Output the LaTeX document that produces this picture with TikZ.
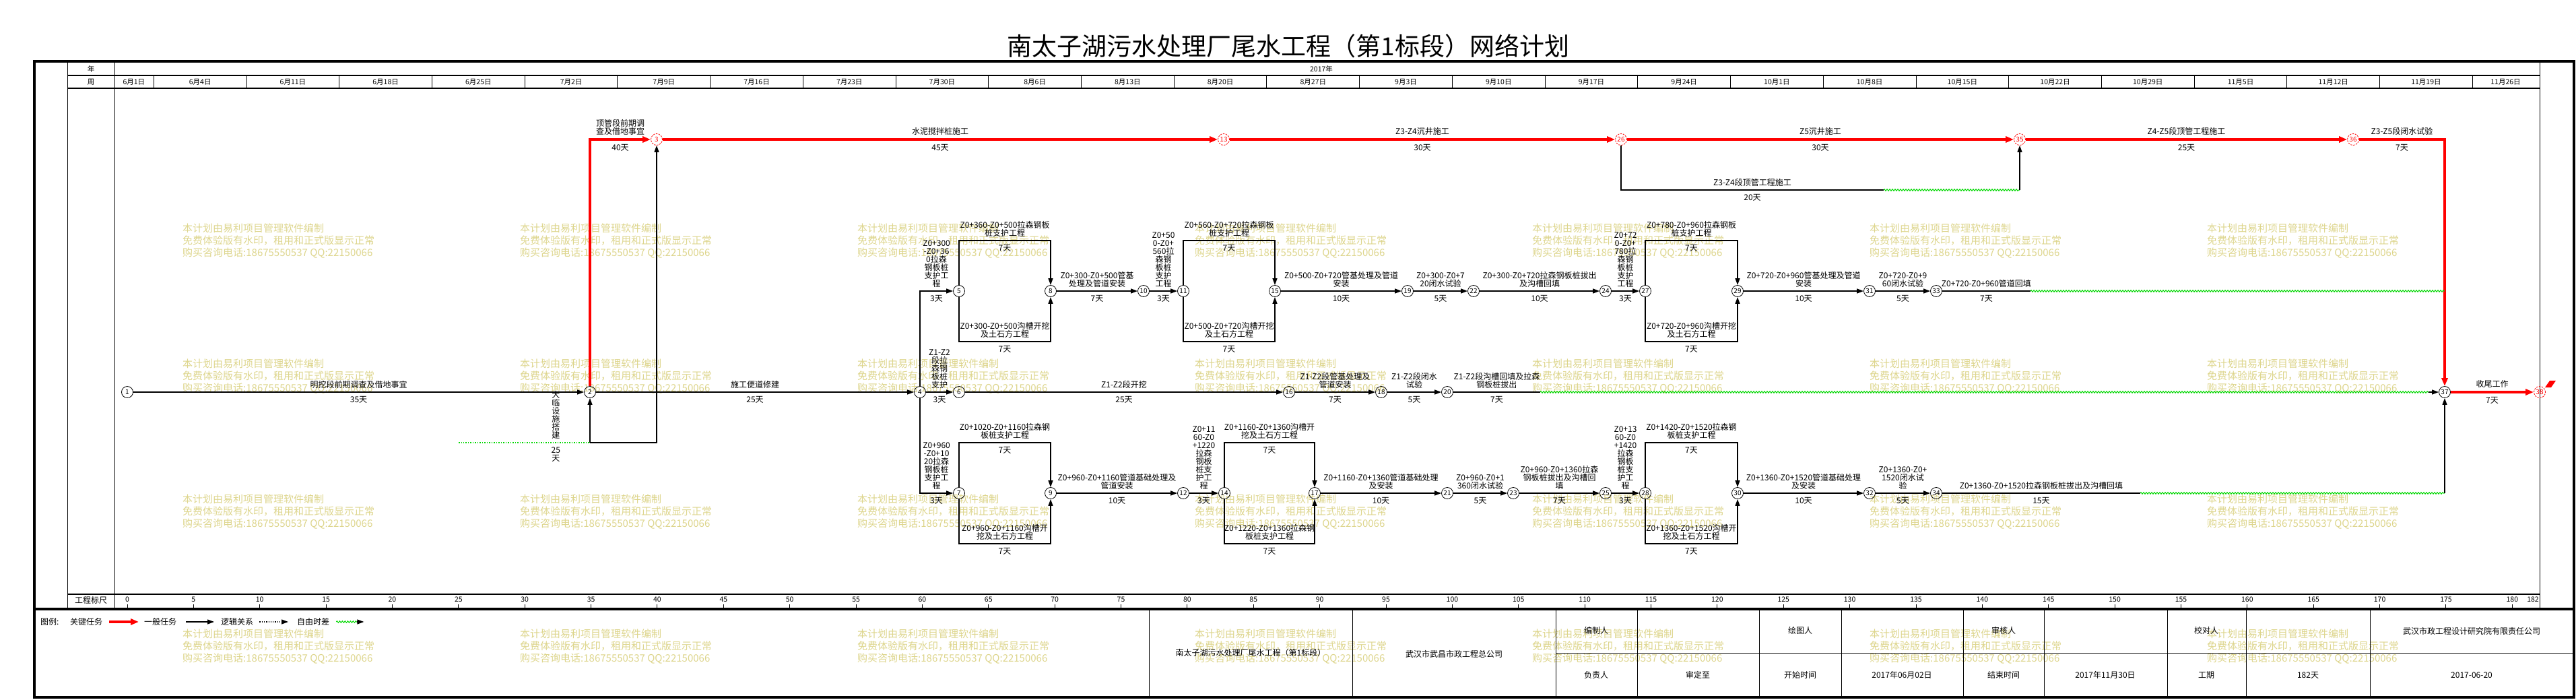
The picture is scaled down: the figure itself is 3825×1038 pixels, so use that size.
\documentclass[tikz,border=0pt]{standalone}
\usepackage{fontspec}
\setmainfont{Noto Sans CJK SC}
\usetikzlibrary{arrows.meta,decorations.pathmorphing}

\definecolor{critred}{RGB}{255,0,0}
\definecolor{floatgreen}{RGB}{0,215,0}
\definecolor{wmark}{RGB}{221,213,140}

\newcommand{\fsz}[1]{\fontsize{#1bp}{#1bp}\selectfont}
\newcommand{\dayx}[1]{189+19.674*(#1)}

\begin{document}
\begin{tikzpicture}[x=1bp, y=-1bp,
    ev/.style={circle, draw, line width=0.8bp, minimum size=17bp, inner sep=0pt, font=\fsz{10}},
    evcrit/.style={ev, draw=critred, text=critred, dash pattern=on 2.5bp off 1.5bp},
    act/.style={line width=1.3bp},
    arr/.style={-{Triangle[length=10bp,width=7bp]}},
    critact/.style={draw=critred, line width=3.5bp, -{Triangle[length=12bp,width=9bp]}},
    flt/.style={draw=floatgreen, line width=1bp, decorate,
                decoration={zigzag, amplitude=1.3bp, segment length=4bp}},
    lbl/.style={above=5bp, font=\fsz{12}, align=center, inner sep=0pt},
    dur/.style={below=6bp, font=\fsz{12}, align=center, inner sep=0pt},
    txt/.style={font=\fsz{10.5}, inner sep=0pt},
    tb/.style={font=\fsz{12}, inner sep=0pt},
    wm/.style={anchor=north west, align=left, text=wmark, inner sep=0pt,
               font=\fontsize{15bp}{18bp}\selectfont}]

  \useasboundingbox (0,0) rectangle (3825,1038);

  % watermark blocks (behind everything)
  \foreach \wx in {271,772,1273,1774,2275,2776,3277}
    \foreach \wy in {340,541,742,942}
      \node[wm] (wm-\wx-\wy) at ({\wx},{\wy-8}) {本计划由易利项目管理软件编制\\免费体验版有水印，租用和正式版显示正常\\购买咨询电话:18675550537 QQ:22150066};

  % title
  \node[font=\fsz{37}, inner sep=0pt] (title) at (1913,68) {南太子湖污水处理厂尾水工程（第1标段）网络计划};

  % frame
  \draw[line width=4.5bp] (51,91) rectangle (3822,1035);
  \draw[line width=4.5bp] (51,904) -- (3822,904);
  \draw[line width=1bp] (100,91) -- (100,904);
  \draw[line width=1bp] (170,91) -- (170,904);
  \draw[line width=1bp] (3771,91) -- (3771,904);
  \draw[line width=1.5bp] (100,112) -- (3771,112);
  \draw[line width=1.5bp] (100,131) -- (3771,131);
  \draw[line width=1.5bp] (100,882) -- (3771,882);

  % header: year and weeks
  \node[txt] (hyear) at (135,102) {年};
  \node[txt] (hweek) at (135,122) {周};
  \node[txt] (year) at (1962,102) {2017年};
  \node[txt] (wk0) at ({\dayx{0.5}},122) {6月1日};
  \foreach \dt [count=\k] in {6月4日,6月11日,6月18日,6月25日,7月2日,7月9日,7月16日,7月23日,7月30日,8月6日,8月13日,8月20日,8月27日,9月3日,9月10日,9月17日,9月24日,10月1日,10月8日,10月15日,10月22日,10月29日,11月5日,11月12日,11月19日}{
    \draw[line width=1bp] ({\dayx{2+7*(\k-1)}},112) -- ({\dayx{2+7*(\k-1)}},131);
    \node[txt] (wk\k) at ({\dayx{5.5+7*(\k-1)}},122) {\dt};
  }
  \draw[line width=1bp] ({\dayx{177}},112) -- ({\dayx{177}},131);
  \node[txt] (wk26) at ({\dayx{179.5}},122) {11月26日};

  % ruler
  \node[tb] (ruler) at (135,891) {工程标尺};
  \foreach \d in {0,5,...,180}{
    \draw[line width=1bp] ({\dayx{\d}},897) -- ({\dayx{\d}},904);
    \node[txt] (rl\d) at ({\dayx{\d}},890) {\d};
  }
  \node[txt] (rl182) at (3761,890) {182};

  % events
  \node[ev] (n1) at (189,582) {1};
  \node[ev] (n2) at (876,582) {2};
  \node[evcrit] (n3) at (975,207) {3};
  \node[ev] (n4) at (1366,582) {4};
  \node[ev] (n5) at (1424,432) {5};
  \node[ev] (n6) at (1424,582) {6};
  \node[ev] (n7) at (1424,732) {7};
  \node[ev] (n8) at (1560,432) {8};
  \node[ev] (n9) at (1560,732) {9};
  \node[ev] (n10) at (1698,432) {10};
  \node[ev] (n11) at (1757,432) {11};
  \node[ev] (n12) at (1757,732) {12};
  \node[evcrit] (n13) at (1817,207) {13};
  \node[ev] (n14) at (1818,732) {14};
  \node[ev] (n15) at (1893,432) {15};
  \node[ev] (n16) at (1914,582) {16};
  \node[ev] (n17) at (1952,732) {17};
  \node[ev] (n18) at (2051,582) {18};
  \node[ev] (n19) at (2090,432) {19};
  \node[ev] (n20) at (2149,582) {20};
  \node[ev] (n21) at (2149,732) {21};
  \node[ev] (n22) at (2188,432) {22};
  \node[ev] (n23) at (2247,732) {23};
  \node[ev] (n24) at (2384,432) {24};
  \node[ev] (n25) at (2384,732) {25};
  \node[evcrit] (n26) at (2407,207) {26};
  \node[ev] (n27) at (2443,432) {27};
  \node[ev] (n28) at (2443,732) {28};
  \node[ev] (n29) at (2580,432) {29};
  \node[ev] (n30) at (2580,732) {30};
  \node[ev] (n31) at (2776,432) {31};
  \node[ev] (n32) at (2776,732) {32};
  \node[ev] (n33) at (2875,432) {33};
  \node[ev] (n34) at (2875,732) {34};
  \node[evcrit] (n35) at (2999,207) {35};
  \node[evcrit] (n36) at (3494,207) {36};
  \node[ev] (n37) at (3630,582) {37};
  \node[evcrit] (n38) at (3771,582) {38};

  % free ends and corners
  \coordinate (dl0) at (681,657);
  \coordinate (dl1) at (876,657);
  \coordinate (dl2) at (975,657);
  \coordinate (z34b) at (2797,282);
  \coordinate (z34c) at (2999,282);
  \coordinate (c36) at (3630,207);
  \coordinate (m20b) at (2287,582);
  \coordinate (m20c) at (3606,582);
  \coordinate (u33b) at (3015,432);
  \coordinate (u33c) at (3630,432);
  \coordinate (l34b) at (3178,732);
  \coordinate (l34c) at (3630,732);

  % critical path
  \draw[critact] (n2) |- node[pos=0.75,lbl] (a2-3) {顶管段前期调\\查及借地事宜} node[pos=0.75,dur] (d2-3) {40天} (n3);
  \draw[critact] (n3) -- node[lbl] (a3-13) {水泥搅拌桩施工} node[dur] (d3-13) {45天} (n13);
  \draw[critact] (n13) -- node[lbl] (a13-26) {Z3-Z4沉井施工} node[dur] (d13-26) {30天} (n26);
  \draw[critact] (n26) -- node[lbl] (a26-35) {Z5沉井施工} node[dur] (d26-35) {30天} (n35);
  \draw[critact] (n35) -- node[lbl] (a35-36) {Z4-Z5段顶管工程施工} node[dur] (d35-36) {25天} (n36);
  \draw[critact] (n36) -- node[lbl] (a36-37) {Z3-Z5段闭水试验} node[dur] (d36-37) {7天} (c36) -- (n37);
  \draw[critact] (n37) -- node[lbl] (a37-38) {收尾工作} node[dur] (d37-38) {7天} (n38);
  \fill[critred] (3779,575) -- (3786,565) -- (3795,565) -- (3788,575) -- cycle;

  % Z3-Z4 pipe jacking branch
  \draw[act] (n26) |- node[pos=0.75,lbl] (a26-z) {Z3-Z4段顶管工程施工} node[pos=0.75,dur] (d26-z) {20天} (z34b);
  \draw[flt] (z34b) -- (z34c);
  \draw[act,arr] (z34c) -- (n35);

  % temporary works
  \draw[draw=floatgreen, line width=1.5bp, dotted] (dl0) -- node[pos=0.74,lbl] (adl) {大\\临\\设\\施\\搭\\建} node[pos=0.74,dur] (ddl) {25\\天} (dl1);
  \draw[act,arr] (dl1) -- (n2);
  \draw[act,arr] (dl1) -- (dl2) -- (n3);

  % main row
  \draw[act,arr] (n1) -- node[lbl] (a1-2) {明挖段前期调查及借地事宜} node[dur] (d1-2) {35天} (n2);
  \draw[act,arr] (n2) -- node[lbl] (a2-4) {施工便道修建} node[dur] (d2-4) {25天} (n4);
  \draw[act,arr] (n4) -- node[lbl] (a4-6) {Z1-Z2\\段拉\\森钢\\板桩\\支护} node[dur] (d4-6) {3天} (n6);
  \draw[act,arr] (n6) -- node[lbl] (a6-16) {Z1-Z2段开挖} node[dur] (d6-16) {25天} (n16);
  \draw[act,arr] (n16) -- node[lbl] (a16-18) {Z1-Z2段管基处理及\\管道安装} node[dur] (d16-18) {7天} (n18);
  \draw[act,arr] (n18) -- node[lbl] (a18-20) {Z1-Z2段闭水\\试验} node[dur] (d18-20) {5天} (n20);
  \draw[act] (n20) -- node[lbl] (a20) {Z1-Z2段沟槽回填及拉森\\钢板桩拔出} node[dur] (d20) {7天} (m20b);
  \draw[flt] (m20b) -- (m20c);
  \draw[act,arr] (m20c) -- (n37);

  % upper branch Z0+300 ~ Z0+960
  \draw[act,arr] (n4) |- node[pos=0.75,lbl] (a4-5) {Z0+300\\-Z0+36\\0拉森\\钢板桩\\支护工\\程} node[pos=0.75,dur] (d4-5) {3天} (n5);
  \draw[act,arr] (n5) |- node[pos=0.75,lbl] (a5-8t) {Z0+360-Z0+500拉森钢板\\桩支护工程} node[pos=0.75,dur] (d5-8t) {7天} (1560,357) -- (n8);
  \draw[act,arr] (n5) |- node[pos=0.75,lbl] (a5-8b) {Z0+300-Z0+500沟槽开挖\\及土石方工程} node[pos=0.75,dur] (d5-8b) {7天} (1560,507) -- (n8);
  \draw[act,arr] (n8) -- node[lbl] (a8-10) {Z0+300-Z0+500管基\\处理及管道安装} node[dur] (d8-10) {7天} (n10);
  \draw[act,arr] (n10) -- node[lbl] (a10-11) {Z0+50\\0-Z0+\\560拉\\森钢\\板桩\\支护\\工程} node[dur] (d10-11) {3天} (n11);
  \draw[act,arr] (n11) |- node[pos=0.75,lbl] (a11-15t) {Z0+560-Z0+720拉森钢板\\桩支护工程} node[pos=0.75,dur] (d11-15t) {7天} (1893,357) -- (n15);
  \draw[act,arr] (n11) |- node[pos=0.75,lbl] (a11-15b) {Z0+500-Z0+720沟槽开挖\\及土石方工程} node[pos=0.75,dur] (d11-15b) {7天} (1893,507) -- (n15);
  \draw[act,arr] (n15) -- node[lbl] (a15-19) {Z0+500-Z0+720管基处理及管道\\安装} node[dur] (d15-19) {10天} (n19);
  \draw[act,arr] (n19) -- node[lbl] (a19-22) {Z0+300-Z0+7\\20闭水试验} node[dur] (d19-22) {5天} (n22);
  \draw[act,arr] (n22) -- node[lbl] (a22-24) {Z0+300-Z0+720拉森钢板桩拔出\\及沟槽回填} node[dur] (d22-24) {10天} (n24);
  \draw[act,arr] (n24) -- node[lbl] (a24-27) {Z0+72\\0-Z0+\\780拉\\森钢\\板桩\\支护\\工程} node[dur] (d24-27) {3天} (n27);
  \draw[act,arr] (n27) |- node[pos=0.75,lbl] (a27-29t) {Z0+780-Z0+960拉森钢板\\桩支护工程} node[pos=0.75,dur] (d27-29t) {7天} (2580,357) -- (n29);
  \draw[act,arr] (n27) |- node[pos=0.75,lbl] (a27-29b) {Z0+720-Z0+960沟槽开挖\\及土石方工程} node[pos=0.75,dur] (d27-29b) {7天} (2580,507) -- (n29);
  \draw[act,arr] (n29) -- node[lbl] (a29-31) {Z0+720-Z0+960管基处理及管道\\安装} node[dur] (d29-31) {10天} (n31);
  \draw[act,arr] (n31) -- node[lbl] (a31-33) {Z0+720-Z0+9\\60闭水试验} node[dur] (d31-33) {5天} (n33);
  \draw[act] (n33) -- node[lbl] (a33) {Z0+720-Z0+960管道回填} node[dur] (d33) {7天} (u33b);
  \draw[flt] (u33b) -- (u33c);

  % lower branch Z0+960 ~ Z0+1520
  \draw[act,arr] (n4) |- node[pos=0.75,lbl] (a4-7) {Z0+960\\-Z0+10\\20拉森\\钢板桩\\支护工\\程} node[pos=0.75,dur] (d4-7) {3天} (n7);
  \draw[act,arr] (n7) |- node[pos=0.75,lbl] (a7-9t) {Z0+1020-Z0+1160拉森钢\\板桩支护工程} node[pos=0.75,dur] (d7-9t) {7天} (1560,657) -- (n9);
  \draw[act,arr] (n7) |- node[pos=0.75,lbl] (a7-9b) {Z0+960-Z0+1160沟槽开\\挖及土石方工程} node[pos=0.75,dur] (d7-9b) {7天} (1560,807) -- (n9);
  \draw[act,arr] (n9) -- node[lbl] (a9-12) {Z0+960-Z0+1160管道基础处理及\\管道安装} node[dur] (d9-12) {10天} (n12);
  \draw[act,arr] (n12) -- node[lbl] (a12-14) {Z0+11\\60-Z0\\+1220\\拉森\\钢板\\桩支\\护工\\程} node[dur] (d12-14) {3天} (n14);
  \draw[act,arr] (n14) |- node[pos=0.75,lbl] (a14-17t) {Z0+1160-Z0+1360沟槽开\\挖及土石方工程} node[pos=0.75,dur] (d14-17t) {7天} (1952,657) -- (n17);
  \draw[act,arr] (n14) |- node[pos=0.75,lbl] (a14-17b) {Z0+1220-Z0+1360拉森钢\\板桩支护工程} node[pos=0.75,dur] (d14-17b) {7天} (1952,807) -- (n17);
  \draw[act,arr] (n17) -- node[lbl] (a17-21) {Z0+1160-Z0+1360管道基础处理\\及安装} node[dur] (d17-21) {10天} (n21);
  \draw[act,arr] (n21) -- node[lbl] (a21-23) {Z0+960-Z0+1\\360闭水试验} node[dur] (d21-23) {5天} (n23);
  \draw[act,arr] (n23) -- node[lbl] (a23-25) {Z0+960-Z0+1360拉森\\钢板桩拔出及沟槽回\\填} node[dur] (d23-25) {7天} (n25);
  \draw[act,arr] (n25) -- node[lbl] (a25-28) {Z0+13\\60-Z0\\+1420\\拉森\\钢板\\桩支\\护工\\程} node[dur] (d25-28) {3天} (n28);
  \draw[act,arr] (n28) |- node[pos=0.75,lbl] (a28-30t) {Z0+1420-Z0+1520拉森钢\\板桩支护工程} node[pos=0.75,dur] (d28-30t) {7天} (2580,657) -- (n30);
  \draw[act,arr] (n28) |- node[pos=0.75,lbl] (a28-30b) {Z0+1360-Z0+1520沟槽开\\挖及土石方工程} node[pos=0.75,dur] (d28-30b) {7天} (2580,807) -- (n30);
  \draw[act,arr] (n30) -- node[lbl] (a30-32) {Z0+1360-Z0+1520管道基础处理\\及安装} node[dur] (d30-32) {10天} (n32);
  \draw[act,arr] (n32) -- node[lbl] (a32-34) {Z0+1360-Z0+\\1520闭水试\\验} node[dur] (d32-34) {5天} (n34);
  \draw[act] (n34) -- node[lbl] (a34) {Z0+1360-Z0+1520拉森钢板桩拔出及沟槽回填} node[dur] (d34) {15天} (l34b);
  \draw[flt] (l34b) -- (l34c);
  \draw[act,arr] (l34c) -- (n37);

  % legend
  \node[tb, anchor=west] (lg0) at (60,923) {图例:};
  \node[tb, anchor=west] (lg1) at (104,923) {关键任务};
  \node[tb, anchor=west] (lg2) at (214,923) {一般任务};
  \node[tb, anchor=west] (lg3) at (328,923) {逻辑关系};
  \node[tb, anchor=west] (lg4) at (441,923) {自由时差};
  \draw[critact] ([xshift=10bp]lg1.east) -- ([xshift=-8bp]lg2.west);
  \draw[act,arr] ([xshift=14bp]lg2.east) -- ([xshift=-10bp]lg3.west);
  \draw[act,arr,dotted] ([xshift=9bp]lg3.east) -- ([xshift=-13bp]lg4.west);
  \draw[flt] ([xshift=10bp]lg4.east) -- ++(31,0) coordinate (lgw);
  \draw[act,arr] (lgw) -- ++(10,0);

  % title block
  \foreach \tx in {1706,2008,2310,2431,2612,2734,2915,3035,3218,3335,3519}
    \draw[line width=1bp] (\tx,904) -- (\tx,1035);
  \draw[line width=1bp] (2310,969) -- (3822,969);
  \node[tb] (tbproj) at (1857,969) {南太子湖污水处理厂尾水工程（第1标段）};
  \node[tb] (tbcon) at (2159,971) {武汉市武昌市政工程总公司};
  \node[tb] (tb1) at (2370,936) {编制人};
  \node[tb] (tb2) at (2673,936) {绘图人};
  \node[tb] (tb3) at (2975,936) {审核人};
  \node[tb] (tb4) at (3276,936) {校对人};
  \node[tb] (tb5) at (3670,937) {武汉市政工程设计研究院有限责任公司};
  \node[tb] (tb6) at (2370,1002) {负责人};
  \node[tb] (tb7) at (2521,1002) {审定至};
  \node[tb] (tb8) at (2673,1002) {开始时间};
  \node[tb] (tb9) at (2824,1002) {2017年06月02日};
  \node[tb] (tb10) at (2975,1002) {结束时间};
  \node[tb] (tb11) at (3126,1002) {2017年11月30日};
  \node[tb] (tb12) at (3276,1002) {工期};
  \node[tb] (tb13) at (3427,1002) {182天};
  \node[tb] (tb14) at (3670,1002) {2017-06-20};
\end{tikzpicture}
\end{document}
